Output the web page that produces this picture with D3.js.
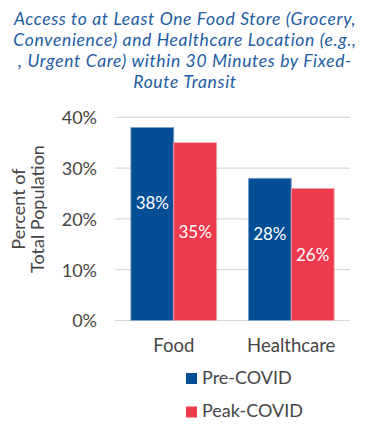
<!DOCTYPE html>
<html><head><meta charset="utf-8">
<script src="https://cdn.jsdelivr.net/npm/d3@7"></script>
<style>body{margin:0;background:#fff}svg{display:block}</style>
</head><body>
<script>
const categories = ["Food", "Healthcare"];
const seriesNames = ["Pre-COVID", "Peak-COVID"];
const preCovid = [38, 28];
const peakCovid = [35, 26];
const yTicks = [0, 10, 20, 30, 40];
const titleLines = [
  "Access to at Least One Food Store (Grocery,",
  "Convenience) and Healthcare Location (e.g.,",
  ", Urgent Care) within 30 Minutes by Fixed-",
  "Route Transit"
];
const yTitle = ["Percent of", "Total Population"];

const colors = ["#034E94", "#EE3A4D"];
const strokes = ["#7EA6CF", "#F7A3AC"];
const labelFrac = [0.61, 0.5];
const W = 390, H = 431;
const font = "Lato, 'Noto Sans', sans-serif";
const txt = "#454545";

const svg = d3.select("body").append("svg").attr("width", W).attr("height", H);

// title
svg.append("g").selectAll("text").data(titleLines).join("text")
  .attr("x", 185).attr("y", (d, i) => 24.5 + i * 21.3)
  .attr("text-anchor", "middle")
  .attr("font-family", font).attr("font-style", "italic")
  .attr("font-size", 17.5).attr("letter-spacing", 0.65).attr("fill", "#1E5CA3")
  .text(d => d);

const x = d3.scaleBand().domain(categories).range([115, 350]).paddingInner(0.27).paddingOuter(0.135);
const xs = d3.scaleBand().domain(seriesNames).range([0, x.bandwidth()]);
const y = d3.scaleLinear().domain([0, 40]).range([320.5, 117.3]);

// gridlines
svg.append("g").selectAll("line").data(yTicks).join("line")
  .attr("x1", 115).attr("x2", 350)
  .attr("y1", d => y(d)).attr("y2", d => y(d))
  .attr("stroke", "#D9D9D9").attr("stroke-width", 1.2);

// y axis
const yAxis = svg.append("g").attr("transform", "translate(97,0)")
  .call(d3.axisLeft(y).tickValues(yTicks).tickFormat(d => d + "%").tickSize(0).tickPadding(0));
yAxis.select(".domain").remove();
yAxis.selectAll("text").attr("font-family", font).attr("font-size", 18).attr("fill", txt).attr("dy", "0.36em");

// y title
svg.append("g").selectAll("text").data(yTitle).join("text")
  .attr("transform", (d, i) => `translate(${25 + i * 19},209) rotate(-90)`)
  .attr("text-anchor", "middle")
  .attr("font-family", font).attr("font-size", 18).attr("fill", txt)
  .text(d => d);

const series = [preCovid, peakCovid];
const data = [];
categories.forEach((c, ci) => series.forEach((s, si) => data.push({ c, si, v: s[ci] })));

const bars = svg.append("g");
bars.selectAll("rect").data(data).join("rect")
  .attr("x", d => x(d.c) + xs(seriesNames[d.si]))
  .attr("width", xs.bandwidth())
  .attr("y", d => y(d.v))
  .attr("height", d => y(0) - y(d.v))
  .attr("fill", d => colors[d.si])
  .attr("stroke", d => strokes[d.si]).attr("stroke-width", 0.8);

bars.selectAll("text").data(data).join("text")
  .attr("x", d => x(d.c) + xs(seriesNames[d.si]) + xs.bandwidth() / 2)
  .attr("y", d => y(d.v * labelFrac[d.si]))
  .attr("dy", "0.36em")
  .attr("text-anchor", "middle")
  .attr("font-family", font).attr("font-size", 17).attr("fill", "#fff")
  .text(d => d.v + "%");

// x axis labels
const xAxis = svg.append("g").attr("transform", "translate(0,320.5)")
  .call(d3.axisBottom(x).tickSize(0).tickPadding(0));
xAxis.select(".domain").remove();
xAxis.selectAll("text").attr("font-family", font).attr("font-size", 18.5).attr("fill", txt)
  .attr("y", 31.5).attr("dy", 0);

// legend
const lg = svg.append("g").selectAll("g").data(seriesNames).join("g")
  .attr("transform", (d, i) => `translate(186,${373 + i * 33.5})`);
lg.append("rect").attr("width", 11).attr("height", 11).attr("fill", (d, i) => colors[i]);
lg.append("text").attr("x", 16).attr("y", 10.5)
  .attr("font-family", font).attr("font-size", 18).attr("fill", txt)
  .text(d => d);
</script>
</body></html>
